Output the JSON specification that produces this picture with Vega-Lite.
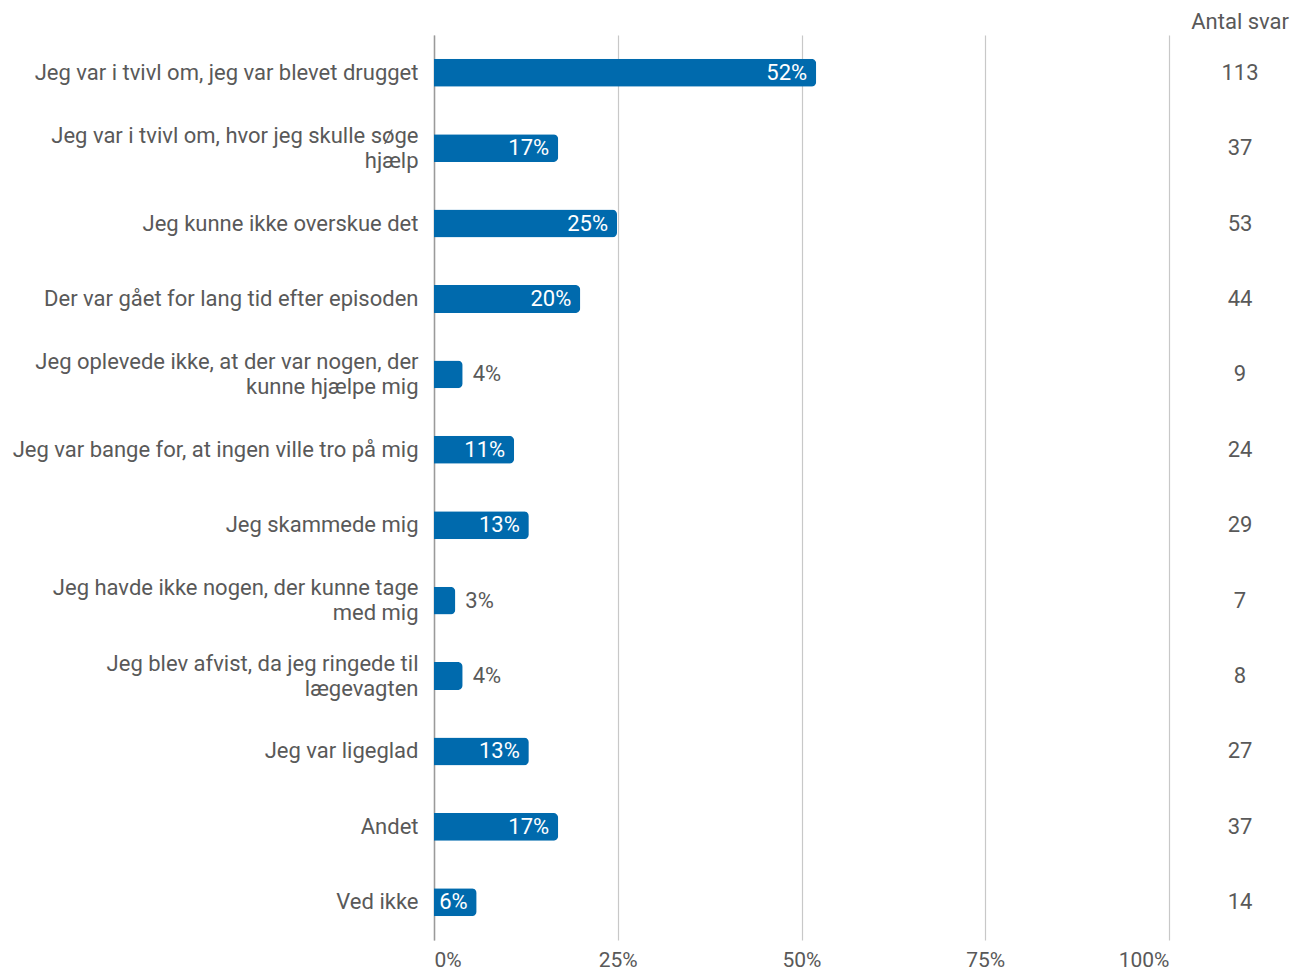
{
  "$schema": "https://vega.github.io/schema/vega-lite/v6.json",
  "autosize": {"type": "none"},
  "padding": {"left": 434, "top": 35, "right": 122, "bottom": 31},
  "width": 735,
  "height": 905,
  "background": "white",
  "config": {
    "font": "Roboto",
    "view": {"stroke": null}
  },
  "title": {
    "text": "Antal svar",
    "anchor": "end",
    "frame": "group",
    "align": "right",
    "dx": 120,
    "offset": 1,
    "fontSize": 22,
    "fontWeight": "normal",
    "color": "#595959",
    "font": "Roboto"
  },
  "data": {
    "values": [
      {"kategori": "Jeg var i tvivl om, jeg var blevet drugget", "pct": 0.52, "antal": 113},
      {"kategori": "Jeg var i tvivl om, hvor jeg skulle søge|hjælp", "pct": 0.169, "antal": 37},
      {"kategori": "Jeg kunne ikke overskue det", "pct": 0.249, "antal": 53},
      {"kategori": "Der var gået for lang tid efter episoden", "pct": 0.199, "antal": 44},
      {"kategori": "Jeg oplevede ikke, at der var nogen, der|kunne hjælpe mig", "pct": 0.039, "antal": 9},
      {"kategori": "Jeg var bange for, at ingen ville tro på mig", "pct": 0.109, "antal": 24},
      {"kategori": "Jeg skammede mig", "pct": 0.129, "antal": 29},
      {"kategori": "Jeg havde ikke nogen, der kunne tage|med mig", "pct": 0.029, "antal": 7},
      {"kategori": "Jeg blev afvist, da jeg ringede til|lægevagten", "pct": 0.039, "antal": 8},
      {"kategori": "Jeg var ligeglad", "pct": 0.129, "antal": 27},
      {"kategori": "Andet", "pct": 0.169, "antal": 37},
      {"kategori": "Ved ikke", "pct": 0.058, "antal": 14}
    ]
  },
  "encoding": {
    "y": {
      "field": "kategori",
      "type": "nominal",
      "sort": null,
      "scale": {"paddingInner": 0.63, "paddingOuter": 0.315},
      "axis": {
        "title": null,
        "labelExpr": "split(datum.value, '|')",
        "labelFontSize": 22,
        "labelColor": "#595959",
        "labelFont": "Roboto",
        "labelLineHeight": 25,
        "labelPadding": 16,
        "labelLimit": 500,
        "labelOffset": {"condition": {"test": "indexof(datum.value, '|') >= 0", "value": -12.5}, "value": 0},
        "ticks": false,
        "domain": true,
        "domainColor": "#9a9a9a",
        "domainWidth": 1.5,
        "grid": false
      }
    }
  },
  "layer": [
    {
      "mark": {"type": "bar", "color": "#006aad", "cornerRadiusEnd": 5},
      "encoding": {
        "x": {
          "field": "pct",
          "type": "quantitative",
          "scale": {"domain": [0, 1], "nice": false},
          "axis": {
            "title": null,
            "format": ".0%",
            "values": [0, 0.25, 0.5, 0.75, 1],
            "labelFontSize": 21,
            "labelColor": "#595959",
            "labelFont": "Roboto",
            "labelPadding": 9,
            "ticks": false,
            "domain": false,
            "grid": true,
            "gridColor": "#c8c8c8",
            "gridWidth": 1.2
          }
        }
      }
    },
    {
      "transform": [{"filter": "datum.pct >= 0.05"}],
      "mark": {"type": "text", "align": "right", "baseline": "middle", "dx": -9, "fontSize": 22, "color": "white", "font": "Roboto"},
      "encoding": {
        "x": {"field": "pct", "type": "quantitative"},
        "text": {"field": "pct", "type": "quantitative", "format": ".0%"}
      }
    },
    {
      "transform": [{"filter": "datum.pct < 0.05"}],
      "mark": {"type": "text", "align": "left", "baseline": "middle", "dx": 10, "fontSize": 22, "color": "#595959", "font": "Roboto"},
      "encoding": {
        "x": {"field": "pct", "type": "quantitative"},
        "text": {"field": "pct", "type": "quantitative", "format": ".0%"}
      }
    },
    {
      "mark": {"type": "text", "align": "center", "baseline": "middle", "fontSize": 22, "color": "#595959", "font": "Roboto"},
      "encoding": {
        "x": {"datum": 1.0966, "type": "quantitative"},
        "text": {"field": "antal", "type": "quantitative"}
      }
    }
  ]
}
